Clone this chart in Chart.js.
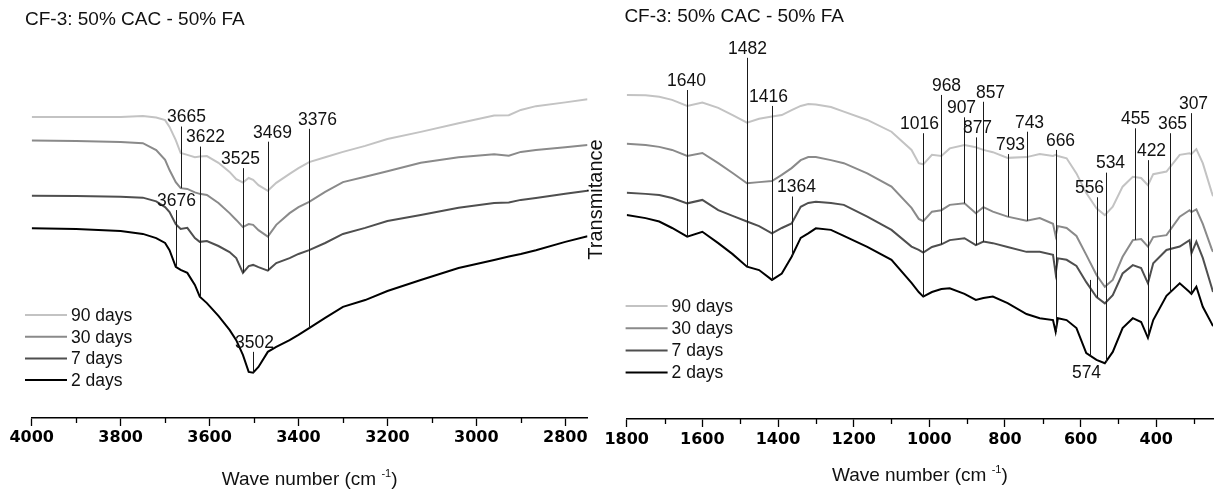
<!DOCTYPE html>
<html>
<head>
<meta charset="utf-8">
<script src="https://cdn.jsdelivr.net/npm/chart.js@4.4.1/dist/chart.umd.min.js"></script>
<style>
  html, body { margin: 0; padding: 0; background: #fff; }
  #wrap { position: relative; width: 1218px; height: 490px; overflow: hidden; }
  canvas { position: absolute; top: 0; }
  #left { left: 0; }
  #right { left: 575px; }
</style>
</head>
<body>
<div id="wrap">
  <canvas id="left" width="600" height="490"></canvas>
  <canvas id="right" width="643" height="490"></canvas>
</div>
<script>
// series names, top to bottom in the legend
var seriesLabels = ['90 days', '30 days', '7 days', '2 days'];
var seriesColors = ['#c3c3c3', '#8a8a8a', '#4f4f4f', '#000000'];

// left panel: 4000 - 2750 cm-1
var leftWaveNumbers = [4000, 3900, 3800, 3750, 3720, 3700, 3690, 3676, 3665, 3650, 3633, 3622, 3606, 3580, 3555, 3540, 3525, 3512, 3502, 3490, 3469, 3450, 3420, 3400, 3376, 3340, 3300, 3250, 3200, 3125, 3040, 2960, 2927, 2900, 2866, 2800, 2750];
var left90 = [79.6, 79.6, 79.6, 79.9, 79.5, 78.8, 77.0, 73.5, 70.1, 69.6, 69.0, 69.2, 69.3, 67.5, 65.1, 63.2, 62.3, 63.5, 63.0, 61.6, 60.1, 62.2, 64.6, 66.1, 67.7, 69.0, 70.4, 72.0, 73.8, 75.7, 78.0, 80.0, 80.1, 81.5, 82.5, 83.5, 84.3];
var left30 = [73.4, 73.3, 73.0, 72.7, 70.9, 68.3, 65.6, 62.4, 60.8, 60.6, 59.7, 59.3, 59.0, 56.9, 54.2, 52.4, 50.5, 51.3, 51.1, 49.7, 48.0, 51.1, 54.2, 55.8, 57.2, 59.8, 62.4, 63.8, 65.3, 67.5, 69.0, 69.8, 69.4, 70.4, 70.9, 71.6, 72.2];
var left7 = [58.8, 58.7, 58.5, 58.3, 57.3, 55.8, 54.5, 51.3, 50.0, 50.3, 47.6, 46.6, 46.8, 45.5, 43.9, 42.3, 38.4, 40.2, 40.5, 39.9, 39.0, 41.0, 42.3, 43.4, 44.4, 46.3, 48.7, 50.3, 52.1, 53.7, 55.6, 56.9, 57.0, 57.7, 58.2, 59.3, 60.1];
var left2 = [50.2, 50.0, 49.5, 48.7, 47.6, 46.3, 44.4, 40.0, 39.2, 38.4, 35.2, 32.1, 30.4, 27.0, 23.3, 20.6, 16.7, 12.2, 12.0, 13.5, 17.5, 18.8, 20.6, 22.0, 23.8, 26.5, 29.4, 31.2, 33.6, 36.5, 39.7, 41.8, 42.7, 43.4, 44.4, 46.6, 48.1];

// right panel: 1800 - 250 cm-1
var rightWaveNumbers = [1800, 1750, 1714, 1680, 1640, 1600, 1558, 1520, 1482, 1450, 1416, 1390, 1364, 1340, 1320, 1300, 1260, 1226, 1164, 1100, 1047, 1028, 1016, 993, 968, 946, 907, 877, 857, 832, 793, 743, 708, 673, 666, 660, 637, 611, 585, 558, 536, 515, 489, 462, 440, 422, 408, 373, 338, 312, 307, 294, 277, 254, 250];
var right90 = [85.5, 85.4, 85.0, 84.2, 82.6, 83.5, 82.1, 80.2, 78.2, 79.2, 79.8, 80.2, 81.5, 82.6, 83.1, 83.0, 82.3, 81.1, 78.9, 75.8, 71.0, 67.5, 67.2, 69.7, 69.4, 71.4, 72.3, 71.7, 71.0, 70.4, 68.9, 69.1, 69.9, 69.4, 69.7, 69.4, 68.8, 64.8, 59.6, 55.6, 53.8, 56.0, 61.3, 63.9, 63.6, 61.7, 64.6, 65.3, 69.7, 70.1, 69.9, 71.2, 67.5, 60.0, 58.8];
var right30 = [72.6, 72.3, 71.8, 71.0, 69.4, 70.2, 67.5, 64.9, 62.2, 62.5, 62.8, 64.4, 66.2, 68.3, 69.1, 69.1, 68.3, 67.5, 64.8, 61.3, 55.7, 52.8, 52.2, 54.7, 55.1, 56.5, 56.9, 54.3, 55.9, 54.7, 53.4, 52.3, 53.0, 51.5, 48.3, 50.9, 50.4, 48.3, 43.3, 38.0, 34.9, 36.7, 42.8, 47.2, 47.5, 45.5, 48.0, 48.5, 53.4, 55.1, 54.6, 55.3, 51.5, 45.0, 44.1];
var right7 = [59.7, 59.4, 59.1, 58.3, 56.9, 57.8, 55.1, 53.6, 52.1, 50.9, 49.0, 50.4, 51.6, 56.0, 57.0, 57.3, 57.0, 56.5, 53.4, 49.9, 45.5, 44.6, 43.9, 45.4, 46.1, 47.2, 47.7, 45.9, 46.8, 46.4, 45.4, 44.1, 44.1, 43.3, 38.4, 42.4, 42.0, 40.4, 36.1, 32.2, 30.5, 32.7, 38.4, 40.6, 39.8, 35.8, 41.1, 44.6, 45.5, 47.2, 43.7, 46.8, 42.5, 34.9, 33.5];
var right2 = [53.8, 53.0, 52.1, 50.4, 48.1, 49.4, 46.4, 43.5, 40.2, 39.3, 36.7, 38.4, 42.8, 47.8, 49.0, 50.3, 49.9, 48.3, 45.4, 42.0, 35.9, 33.5, 32.3, 33.5, 34.3, 34.5, 33.0, 31.4, 31.9, 32.3, 30.6, 27.7, 26.6, 26.1, 23.0, 26.6, 26.1, 24.0, 17.4, 15.6, 14.7, 17.7, 24.0, 26.6, 25.6, 21.4, 26.1, 32.5, 35.8, 33.5, 33.0, 34.9, 29.6, 25.3, 24.5];

// peak markers: band position, top of the marker (transmittance), curve it runs down to
var leftPeaks = [
  {wn: 3665, top: 77.1, on: '30 days', dx: 5},
  {wn: 3622, top: 71.8, on: '2 days', dx: 5},
  {wn: 3525, top: 66.1, on: '7 days', dx: -3},
  {wn: 3469, top: 73.1, on: '7 days', dx: 4},
  {wn: 3376, top: 76.5, on: '2 days', dx: 8},
  {wn: 3676, top: 55.0, on: '2 days', dx: 0},
  {wn: 3502, top: 17.5, on: '2 days', dx: 1}
];
var rightPeaks = [
  {wn: 1640, top: 86.8, on: '2 days', dx: -1},
  {wn: 1482, top: 95.3, on: '2 days', dx: 0},
  {wn: 1416, top: 82.6, on: '2 days', dx: -4},
  {wn: 1364, top: 58.7, on: '2 days', dx: 4},
  {wn: 1016, top: 75.4, on: '2 days', dx: -4},
  {wn: 968, top: 85.5, on: '7 days', dx: 5},
  {wn: 907, top: 79.6, on: '30 days', dx: -3},
  {wn: 877, top: 74.3, on: '7 days', dx: 1},
  {wn: 857, top: 83.7, on: '7 days', dx: 7},
  {wn: 793, top: 69.9, on: '30 days', dx: 2},
  {wn: 743, top: 75.8, on: '30 days', dx: 2},
  {wn: 666, top: 71.0, on: '2 days', dx: 4},
  {wn: 556, top: 58.5, on: '7 days', dx: -8},
  {wn: 534, top: 65.0, on: '2 days', dx: 4},
  {wn: 574, top: 36.7, on: '2 days', dx: -4, below: true},
  {wn: 455, top: 76.7, on: '30 days', dx: 0},
  {wn: 422, top: 68.3, on: '2 days', dx: 3},
  {wn: 365, top: 75.4, on: '2 days', dx: 2},
  {wn: 307, top: 80.7, on: '2 days', dx: 2}
];

var FONT = "'Liberation Sans', Arial, sans-serif";

function points(xs, ys) {
  return xs.map(function(x, i) { return {x: x, y: ys[i]}; });
}

function valueAt(data, wn) {
  for (var i = 0; i < data.length - 1; i++) {
    var a = data[i], b = data[i + 1];
    if (wn <= a.x && wn >= b.x) {
      return a.y + (a.x - wn) / (a.x - b.x) * (b.y - a.y);
    }
  }
  return data[data.length - 1].y;
}

var panelText = {
  id: 'panelText',
  afterDraw: function(chart, args, o) {
    var ctx = chart.ctx, xs = chart.scales.x, ys = chart.scales.y, area = chart.chartArea;
    ctx.save();

    // minor ticks every 100
    ctx.strokeStyle = '#000';
    ctx.lineWidth = 1.3;
    for (var v = Math.ceil(xs.min / 100) * 100; v <= xs.max; v += 100) {
      if (v % 200 === 0) continue;
      var tx = Math.round(xs.getPixelForValue(v)) + 0.5;
      ctx.beginPath();
      ctx.moveTo(tx, area.bottom);
      ctx.lineTo(tx, area.bottom + 5);
      ctx.stroke();
    }

    // peak markers
    ctx.strokeStyle = '#1a1a1a';
    ctx.lineWidth = 1;
    ctx.fillStyle = '#111';
    ctx.font = '17.5px ' + FONT;
    ctx.textAlign = 'center';
    ctx.textBaseline = 'middle';
    o.peaks.forEach(function(p) {
      var ds = chart.data.datasets[seriesLabels.indexOf(p.on)];
      var x = Math.round(xs.getPixelForValue(p.wn)) + 0.5;
      var y1 = ys.getPixelForValue(p.top);
      var y2 = ys.getPixelForValue(valueAt(ds.data, p.wn));
      ctx.beginPath();
      ctx.moveTo(x, y1);
      ctx.lineTo(x, y2);
      ctx.stroke();
      if (p.below) ctx.fillText(String(p.wn), x + p.dx, y2 + 17);
      else ctx.fillText(String(p.wn), x + p.dx, y1 - 9);
    });

    // legend
    ctx.textAlign = 'left';
    seriesLabels.forEach(function(name, i) {
      var ds = chart.data.datasets[i];
      var y = o.legendY + i * o.legendGap;
      ctx.strokeStyle = ds.borderColor;
      ctx.lineWidth = 2;
      ctx.beginPath();
      ctx.moveTo(o.legendX, y);
      ctx.lineTo(o.legendX + 42, y);
      ctx.stroke();
      ctx.fillStyle = '#111';
      ctx.fillText(name, o.legendX + 46, y + 1);
    });

    // panel title
    ctx.textBaseline = 'alphabetic';
    ctx.font = '19px ' + FONT;
    ctx.fillText(o.title, o.titleX, o.titleY);

    // x axis title with superscript
    var main = 'Wave number (cm ', sup = '-1', end = ')';
    var w1 = ctx.measureText(main).width, w3 = ctx.measureText(end).width;
    ctx.font = '11px ' + FONT;
    var w2 = ctx.measureText(sup).width;
    var x0 = (area.left + area.right) / 2 - (w1 + w2 + w3) / 2;
    ctx.font = '19px ' + FONT;
    ctx.fillText(main, x0, o.xTitleY);
    ctx.fillText(end, x0 + w1 + w2, o.xTitleY);
    ctx.font = '11px ' + FONT;
    ctx.fillText(sup, x0 + w1, o.xTitleY - 8);

    // y title
    if (o.yTitle) {
      ctx.font = '20px ' + FONT;
      ctx.translate(o.yTitleX, o.yTitleY);
      ctx.rotate(-Math.PI / 2);
      ctx.textAlign = 'center';
      ctx.fillText(o.yTitle, 0, 0);
    }
    ctx.restore();
  }
};

function makeChart(id, xs, series, xmin, xmax, pad, axisHeight, tickPad, text) {
  var datasets = series.map(function(ys, i) {
    return {
      label: seriesLabels[i],
      data: points(xs, ys),
      borderColor: seriesColors[i],
      borderWidth: 2,
      pointRadius: 0,
      tension: 0,
      fill: false,
      order: 3 - i
    };
  });
  return new Chart(document.getElementById(id), {
    type: 'line',
    data: { datasets: datasets },
    options: {
      responsive: false,
      animation: false,
      events: [],
      layout: { padding: pad },
      plugins: {
        legend: { display: false },
        tooltip: { enabled: false },
        panelText: text
      },
      scales: {
        x: {
          type: 'linear',
          min: xmin,
          max: xmax,
          reverse: true,
          ticks: {
            stepSize: 200,
            includeBounds: false,
            autoSkip: false,
            maxRotation: 0,
            padding: tickPad,
            color: '#000',
            font: { family: 'DejaVu Sans', weight: 'bold', size: 16 },
            callback: function(v) { return String(v); }
          },
          grid: { drawOnChartArea: false, drawTicks: true, tickLength: 8, tickColor: '#000', tickWidth: 1.3 },
          border: { display: true, color: '#000', width: 1.5 },
          afterFit: function(s) { s.height = axisHeight; }
        },
        y: { display: false, min: 0, max: 100 }
      }
    },
    plugins: [panelText]
  });
}

makeChart('left', leftWaveNumbers, [left90, left30, left7, left2], 2750, 4000,
  { left: 31.7, right: 12.5, top: 40, bottom: 1 }, 71, 2,
  { peaks: leftPeaks, legendX: 25, legendY: 315, legendGap: 21.7,
    title: 'CF-3: 50% CAC - 50% FA', titleX: 25, titleY: 24.5, xTitleY: 485 });

makeChart('right', rightWaveNumbers, [right90, right30, right7, right2], 250, 1800,
  { left: 51.7, right: 5, top: 40, bottom: 1 }, 70, 3,
  { peaks: rightPeaks, legendX: 50.6, legendY: 306, legendGap: 22.2,
    title: 'CF-3: 50% CAC - 50% FA', titleX: 49.4, titleY: 22, xTitleY: 481,
    yTitle: 'Transmitance', yTitleX: 27, yTitleY: 199.5 });
</script>
</body>
</html>
